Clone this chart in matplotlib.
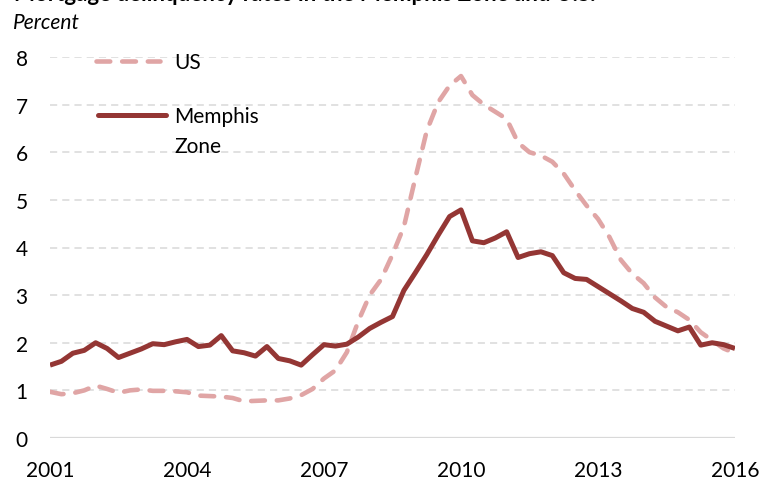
import numpy as np
import matplotlib.pyplot as plt

plt.rcParams['font.family'] = ['Lato', 'DejaVu Sans']

# quarterly values, 2001Q1 .. 2016Q1 (percent)
memphis = [1.53, 1.61, 1.78, 1.84, 2.00, 1.88, 1.69, 1.78, 1.87, 1.98,
           1.96, 2.02, 2.07, 1.92, 1.95, 2.15, 1.83, 1.79, 1.72, 1.92,
           1.67, 1.62, 1.53, 1.75, 1.96, 1.93, 1.97, 2.12, 2.30, 2.43,
           2.55, 3.10, 3.47, 3.85, 4.26, 4.65, 4.79, 4.14, 4.10, 4.20,
           4.33, 3.79, 3.87, 3.91, 3.83, 3.47, 3.35, 3.33, 3.18, 3.03,
           2.88, 2.72, 2.64, 2.45, 2.35, 2.25, 2.33, 1.95, 2.00, 1.96,
           1.88]
us = [0.97, 0.92, 0.94, 1.00, 1.10, 1.03, 0.95, 1.00, 1.02, 0.99,
      0.99, 0.98, 0.96, 0.89, 0.88, 0.87, 0.84, 0.77, 0.78, 0.79,
      0.79, 0.83, 0.90, 1.03, 1.25, 1.42, 1.80, 2.45, 3.00, 3.33,
      3.85, 4.44, 5.46, 6.45, 7.05, 7.40, 7.60, 7.20, 7.00, 6.85,
      6.70, 6.20, 6.00, 5.93, 5.80, 5.55, 5.20, 4.88, 4.60, 4.22,
      3.74, 3.45, 3.25, 2.95, 2.75, 2.64, 2.48, 2.22, 2.05, 1.88,
      1.78]
year_ticks = [2001, 2004, 2007, 2010, 2013, 2016]
yticks = [0, 1, 2, 3, 4, 5, 6, 7, 8]

x = 2001 + np.arange(len(memphis)) / 4

us_color = '#e0a5a5'
mem_color = '#943634'
grid_color = '#d9d9d9'

fig = plt.figure(figsize=(7.6, 4.81), dpi=100)
ax = fig.add_axes([50/760, 42/481, 685/760, 381/481])

# grid
for v in yticks[1:]:
    ax.axhline(v, color=grid_color, lw=1.1, dashes=(4.7, 3.3), zorder=1)
ax.axhline(0, color=grid_color, lw=1.6, zorder=1)

ax.plot(x, us, color=us_color, lw=3.3, dashes=(3.0, 2.6),
        dash_capstyle='round', solid_joinstyle='round', zorder=3)
ax.plot(x, memphis, color=mem_color, lw=3.6, solid_joinstyle='round',
        solid_capstyle='butt', zorder=4)

ax.set_xlim(2001, 2016)
ax.set_ylim(0, 8)
ax.set_xticks(year_ticks)
ax.set_xticklabels([str(y) for y in year_ticks])
ax.set_yticks(yticks)
ax.tick_params(axis='both', length=0, labelsize=15, colors='black')
ax.tick_params(axis='y', pad=16)
ax.tick_params(axis='x', pad=16)
for s in ax.spines.values():
    s.set_visible(False)

# legend drawn by hand
ax.plot([0.067, 0.161], [0.9895, 0.9895], transform=ax.transAxes, clip_on=False,
        color=us_color, lw=3.3, dashes=(3.0, 2.6), dash_capstyle='round')
ax.plot([0.070, 0.170], [0.848, 0.848], transform=ax.transAxes, clip_on=False,
        color=mem_color, lw=3.6, solid_capstyle='round')
ax.text(0.181, 0.987, 'US', transform=ax.transAxes, fontsize=15, va='center')
ax.text(0.181, 0.845, 'Memphis', transform=ax.transAxes, fontsize=15, va='center')
ax.text(0.181, 0.766, 'Zone', transform=ax.transAxes, fontsize=15, va='center')

fig.text(13/760, 1 - 23/481, 'Percent', fontsize=15, style='italic', va='center')
# title sits mostly above the top edge, as in the source image
fig.text(14/760, 1 - 1/481, 'Mortgage delinquency rates in the Memphis Zone and U.S.',
         fontsize=16, fontweight='bold', va='baseline')

fig.savefig('out.png', dpi=100)
